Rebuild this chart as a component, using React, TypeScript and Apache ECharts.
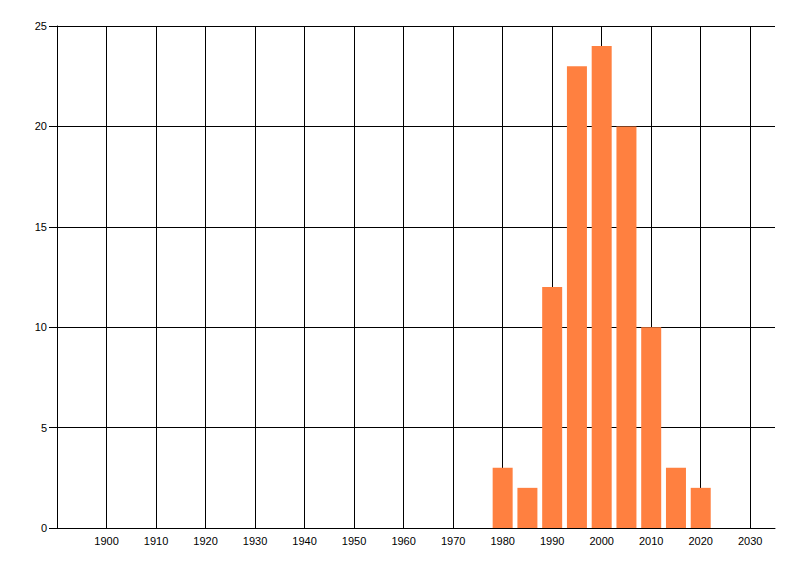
import { useEffect, useRef } from 'react';
import * as echarts from 'echarts';

// years with bars, and their counts
const years = [1980, 1985, 1990, 1995, 2000, 2005, 2010, 2015, 2020];
const counts = [3, 2, 12, 23, 24, 20, 10, 3, 2];

// labelled x ticks (each one gets a vertical grid line)
const xTicks = [1900, 1910, 1920, 1930, 1940, 1950, 1960, 1970, 1980, 1990, 2000, 2010, 2020, 2030];

function App() {
  const chartRef = useRef<HTMLDivElement>(null);

  useEffect(() => {
    if (!chartRef.current) return;
    const chart = echarts.init(chartRef.current, null, { renderer: 'svg' });

    const font = { fontFamily: 'Liberation Sans', fontSize: 11, color: '#000' };

    chart.setOption({
      animation: false,
      backgroundColor: '#fff',
      grid: { left: 57, top: 26, right: 25, bottom: 48, containLabel: false },
      xAxis: {
        type: 'value',
        min: 1890,
        max: 2035,
        interval: 10,
        axisLine: { show: true, onZero: false, lineStyle: { color: '#000', width: 1 } },
        axisTick: { show: false },
        splitLine: { show: false },
        axisLabel: {
          ...font,
          margin: 7,
          formatter: (v: number) => (xTicks.includes(v) ? String(v) : ''),
        },
      },
      yAxis: {
        type: 'value',
        min: 0,
        max: 25,
        interval: 5,
        axisLine: { show: true, lineStyle: { color: '#000', width: 1 } },
        axisTick: { show: true, length: 8, lineStyle: { color: '#000' } },
        splitLine: { show: true, lineStyle: { color: '#000', width: 1 } },
        axisLabel: { ...font, margin: 10 },
      },
      series: [
        {
          type: 'bar',
          data: years.map((y, i) => [y, counts[i]]),
          barWidth: 20,
          itemStyle: { color: '#FF8040' },
          z: 3,
          markLine: {
            silent: true,
            symbol: 'none',
            label: { show: false },
            lineStyle: { color: '#000', type: 'solid', width: 1 },
            emphasis: { disabled: true },
            z: 1,
            data: xTicks.map((x) => ({ xAxis: x })),
          },
        },
      ],
    });

    return () => chart.dispose();
  }, []);

  return (
    <div
      ref={chartRef}
      style={{ position: 'fixed', left: 0, top: 0, width: 800, height: 576 }}
    />
  );
}

export default App;
